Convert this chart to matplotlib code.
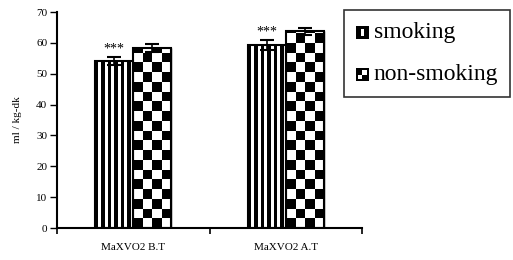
import numpy as np
import matplotlib
matplotlib.use("Agg")
import matplotlib.pyplot as plt
from matplotlib.patches import Rectangle, Patch
from matplotlib.legend_handler import HandlerBase

# Data
categories = ["MaXVO2 B.T", "MaXVO2 A.T"]
groups = ["smoking", "non-smoking"]
smoking = [54.1, 59.3]
smoking_err = [1.3, 1.5]
non_smoking = [58.2, 63.7]
non_smoking_err = [1.3, 1.0]
stars = ["***", "***"]
yticks = [0, 10, 20, 30, 40, 50, 60, 70]

plt.rcParams['font.family'] = ['Liberation Serif', 'DejaVu Serif']

fig = plt.figure(figsize=(5.13, 2.60), dpi=100)
ax = fig.add_axes([57 / 513, 1 - 228 / 260, 305 / 513, 216 / 260])

x = np.arange(len(categories))
w = 0.25


def fill_pattern(rect, board, top):
    # paint a black/white pattern inside a bar, clipped to its outline
    x0 = rect.get_x()
    im = ax.imshow(board, cmap="gray", origin="lower", aspect="auto",
                   interpolation="nearest", vmin=0, vmax=1,
                   extent=(x0, x0 + rect.get_width(), 0, top), zorder=2.5)
    im.set_clip_path(rect)


# smoking bars: vertical stripes
b1 = ax.bar(x - w / 2, smoking, w, facecolor="white", edgecolor="black",
            linewidth=1.0, zorder=2)
for rect in b1:
    stripes = (np.arange(12) % 2).reshape(1, -1)
    fill_pattern(rect, stripes, rect.get_height())

# non-smoking bars: checkerboard
b2 = ax.bar(x + w / 2, non_smoking, w, facecolor="white", edgecolor="black",
            linewidth=1.0, zorder=2)
cell = 3.15
for rect in b2:
    nrows = int(np.ceil(rect.get_height() / cell))
    board = np.indices((nrows, 4)).sum(axis=0) % 2
    fill_pattern(rect, board, nrows * cell)

for rect in list(b1) + list(b2):
    ax.add_patch(Rectangle((rect.get_x(), 0), rect.get_width(), rect.get_height(),
                           fill=False, edgecolor="black", linewidth=1.5, zorder=3))

ax.errorbar(x - w / 2, smoking, yerr=smoking_err, fmt="none", ecolor="black",
            elinewidth=1.2, capsize=5, capthick=1.5, zorder=4)
ax.errorbar(x + w / 2, non_smoking, yerr=non_smoking_err, fmt="none", ecolor="black",
            elinewidth=1.2, capsize=5, capthick=1.5, zorder=4)

for i, s in enumerate(stars):
    ax.text(x[i] - w / 2, smoking[i] + smoking_err[i] + 0.5, s,
            ha="center", va="bottom", fontsize=10)

ax.set_xlim(-0.5, 1.5)
ax.set_ylim(0, 70)
ax.set_yticks(yticks)
ax.tick_params(axis="y", direction="out", length=5, width=1, labelsize=8, pad=2)
ax.set_xticks([-0.5, 0.5, 1.5])
ax.set_xticklabels(["", "", ""])
ax.set_xticks(x, minor=True)
ax.set_xticklabels(categories, minor=True)
ax.tick_params(axis="x", which="major", direction="out", length=4, width=1.2)
ax.tick_params(axis="x", which="minor", length=0, labelsize=8, pad=11)
for side in ["top", "right"]:
    ax.spines[side].set_visible(False)
for side in ["left", "bottom"]:
    ax.spines[side].set_linewidth(1.5)
ax.set_ylabel("ml / kg-dk", fontsize=8, labelpad=10)


class StripeHandler(HandlerBase):
    def create_artists(self, legend, orig, xd, yd, width, height, fontsize, trans):
        s = min(width, height)
        x0 = xd + (width - s) / 2
        arts = [Rectangle((x0, yd), s, s, facecolor="black", transform=trans),
                Rectangle((x0 + s * 0.38, yd + s * 0.2), s * 0.24, s * 0.6,
                          facecolor="white", transform=trans)]
        return arts


class CheckHandler(HandlerBase):
    def create_artists(self, legend, orig, xd, yd, width, height, fontsize, trans):
        s = min(width, height)
        x0 = xd + (width - s) / 2
        q = s * 0.36
        arts = [Rectangle((x0, yd), s, s, facecolor="black", transform=trans),
                Rectangle((x0 + s / 2, yd + s / 2), q, q, facecolor="white", transform=trans),
                Rectangle((x0 + s / 2 - q, yd + s / 2 - q), q, q, facecolor="white",
                          transform=trans)]
        return arts


h1 = Patch(label=groups[0])
h2 = Patch(label=groups[1])
leg = fig.legend([h1, h2], groups, loc="upper left",
                 bbox_to_anchor=(344 / 513, 1 - 10 / 260),
                 handler_map={h1: StripeHandler(), h2: CheckHandler()},
                 fontsize=17, frameon=True, fancybox=False, borderpad=0.5,
                 labelspacing=0.9, handlelength=0.55, handleheight=0.55,
                 handletextpad=0.2, borderaxespad=0)
leg.get_frame().set_edgecolor("black")
leg.get_frame().set_linewidth(1.2)

fig.savefig("out.png", dpi=100)
